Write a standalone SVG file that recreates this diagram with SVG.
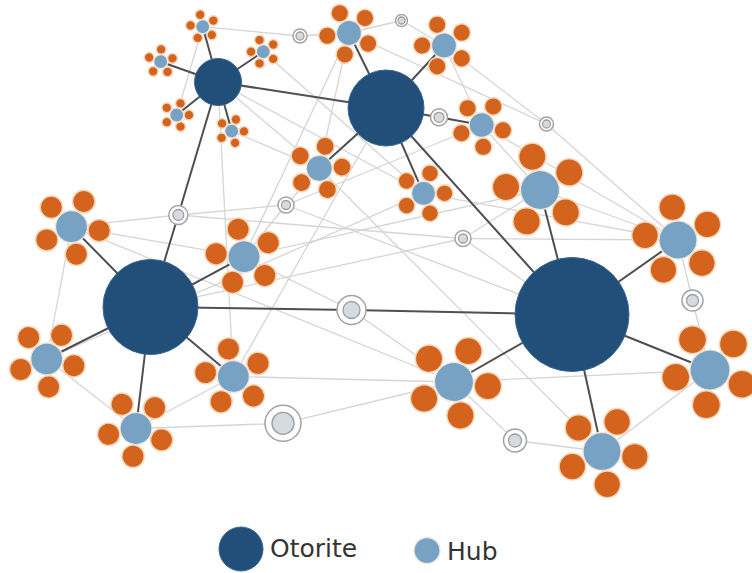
<svg xmlns="http://www.w3.org/2000/svg" xmlns:xlink="http://www.w3.org/1999/xlink" width="752" height="573" viewBox="0 0 752 573">
  <style>
    .bg { fill: #ffffff; }
    .link { stroke: #d5d5d5; stroke-width: 1.3; fill: none; }
    .link-strong { stroke: #4d4f52; stroke-width: 2; fill: none; }
    .otorite { fill: #214f79; stroke: #3a6690; stroke-width: 1; }
    .hub { fill: #78a2c4; stroke: #ece6dc; stroke-width: 1.3; }
    .petal { fill: #d3631d; stroke: #f7d6b8; stroke-width: 1.5; }
    .ring-out { fill: #ffffff; stroke: #a3a3a3; stroke-width: 1.5; }
    .ring-in { fill: #d6dbe1; stroke: #9e9e9e; stroke-width: 1.3; }
    .legend-text { font-family: "DejaVu Sans", Verdana, sans-serif; font-size: 25px; fill: #333333; }
  </style>
  <defs>
    <!-- hub of radius 10 with five petals; scaled and turned per node -->
    <g id="flower">
      <circle class="petal" cx="17.5" cy="0" r="7" vector-effect="non-scaling-stroke"/>
      <circle class="petal" cx="5.408" cy="16.643" r="7" vector-effect="non-scaling-stroke"/>
      <circle class="petal" cx="-14.158" cy="10.286" r="7" vector-effect="non-scaling-stroke"/>
      <circle class="petal" cx="-14.158" cy="-10.286" r="7" vector-effect="non-scaling-stroke"/>
      <circle class="petal" cx="5.408" cy="-16.643" r="7" vector-effect="non-scaling-stroke"/>
      <circle class="hub" cx="0" cy="0" r="10" vector-effect="non-scaling-stroke"/>
    </g>
  </defs>

  <rect class="bg" x="0" y="0" width="752" height="573"/>

  <g id="connectors">
    <!-- light links -->
    <line class="link" x1="202.7" y1="26.7" x2="300" y2="36"/>
    <line class="link" x1="300" y1="36" x2="349" y2="33"/>
    <line class="link" x1="349" y1="33" x2="401.5" y2="20.5"/>
    <line class="link" x1="401.5" y1="20.5" x2="444" y2="45.5"/>
    <line class="link" x1="349" y1="33" x2="546.5" y2="124"/>
    <line class="link" x1="444" y1="45.5" x2="546.5" y2="124"/>
    <line class="link" x1="546.5" y1="124" x2="678" y2="240"/>
    <line class="link" x1="444" y1="45.5" x2="481.7" y2="125"/>
    <line class="link" x1="481.7" y1="125" x2="540" y2="190"/>
    <line class="link" x1="481.7" y1="125" x2="678" y2="240"/>
    <line class="link" x1="202.7" y1="26.7" x2="176.7" y2="115"/>
    <line class="link" x1="218" y1="82" x2="319.3" y2="168.3"/>
    <line class="link" x1="218" y1="82" x2="423.5" y2="193.3"/>
    <line class="link" x1="218" y1="82" x2="233.3" y2="376.5"/>
    <line class="link" x1="263.3" y1="51.7" x2="423.5" y2="193.3"/>
    <line class="link" x1="231.7" y1="131" x2="319.3" y2="168.3"/>
    <line class="link" x1="349" y1="33" x2="319.3" y2="168.3"/>
    <line class="link" x1="349" y1="33" x2="244" y2="256.7"/>
    <line class="link" x1="286" y1="205" x2="319.3" y2="168.3"/>
    <line class="link" x1="286" y1="205" x2="244" y2="256.7"/>
    <line class="link" x1="178.3" y1="215" x2="71.5" y2="226.7"/>
    <line class="link" x1="178.3" y1="215" x2="286" y2="205"/>
    <line class="link" x1="178.3" y1="215" x2="463" y2="238.5"/>
    <line class="link" x1="71.5" y1="226.7" x2="244" y2="256.7"/>
    <line class="link" x1="71.5" y1="226.7" x2="46.7" y2="359"/>
    <line class="link" x1="46.7" y1="359" x2="136" y2="428.5"/>
    <line class="link" x1="46.7" y1="359" x2="423.5" y2="193.3"/>
    <line class="link" x1="136" y1="428.5" x2="233.3" y2="376.5"/>
    <line class="link" x1="136" y1="428.5" x2="283" y2="423.3"/>
    <line class="link" x1="283" y1="423.3" x2="454" y2="382"/>
    <line class="link" x1="233.3" y1="376.5" x2="454" y2="382"/>
    <line class="link" x1="454" y1="382" x2="710" y2="370"/>
    <line class="link" x1="454" y1="382" x2="515" y2="440.5"/>
    <line class="link" x1="515" y1="440.5" x2="602" y2="451.5"/>
    <line class="link" x1="602" y1="451.5" x2="710" y2="370"/>
    <line class="link" x1="678" y1="240" x2="692.5" y2="300.5"/>
    <line class="link" x1="692.5" y1="300.5" x2="710" y2="370"/>
    <line class="link" x1="540" y1="190" x2="678" y2="240"/>
    <line class="link" x1="423.5" y1="193.3" x2="678" y2="240"/>
    <line class="link" x1="244" y1="256.7" x2="540" y2="190"/>
    <line class="link" x1="150.5" y1="307" x2="463" y2="238.5"/>
    <line class="link" x1="463" y1="238.5" x2="540" y2="190"/>
    <line class="link" x1="463" y1="238.5" x2="678" y2="240"/>
    <line class="link" x1="463" y1="238.5" x2="572" y2="314.5"/>
    <line class="link" x1="286" y1="205" x2="481.7" y2="125"/>
    <line class="link" x1="286" y1="205" x2="572" y2="314.5"/>
    <line class="link" x1="351.5" y1="310" x2="244" y2="256.7"/>
    <line class="link" x1="351.5" y1="310" x2="454" y2="382"/>
    <line class="link" x1="319.3" y1="168.3" x2="602" y2="451.5"/>
    <line class="link" x1="71.5" y1="226.7" x2="454" y2="382"/>
    <line class="link" x1="386" y1="108" x2="233.3" y2="376.5"/>

    <!-- strong links from each otorite -->
    <line class="link-strong" x1="218" y1="82" x2="202.7" y2="26.7"/>
    <line class="link-strong" x1="218" y1="82" x2="160.7" y2="61.7"/>
    <line class="link-strong" x1="218" y1="82" x2="263.3" y2="51.7"/>
    <line class="link-strong" x1="218" y1="82" x2="176.7" y2="115"/>
    <line class="link-strong" x1="218" y1="82" x2="231.7" y2="131"/>
    <line class="link-strong" x1="218" y1="82" x2="386" y2="108"/>
    <line class="link-strong" x1="218" y1="82" x2="178.3" y2="215"/>
    <line class="link-strong" x1="178.3" y1="215" x2="150.5" y2="307"/>
    <line class="link-strong" x1="386" y1="108" x2="349" y2="33"/>
    <line class="link-strong" x1="386" y1="108" x2="444" y2="45.5"/>
    <line class="link-strong" x1="386" y1="108" x2="319.3" y2="168.3"/>
    <line class="link-strong" x1="386" y1="108" x2="423.5" y2="193.3"/>
    <line class="link-strong" x1="386" y1="108" x2="439" y2="117.3"/>
    <line class="link-strong" x1="439" y1="117.3" x2="481.7" y2="125"/>
    <line class="link-strong" x1="386" y1="108" x2="572" y2="314.5"/>
    <line class="link-strong" x1="150.5" y1="307" x2="71.5" y2="226.7"/>
    <line class="link-strong" x1="150.5" y1="307" x2="244" y2="256.7"/>
    <line class="link-strong" x1="150.5" y1="307" x2="46.7" y2="359"/>
    <line class="link-strong" x1="150.5" y1="307" x2="233.3" y2="376.5"/>
    <line class="link-strong" x1="150.5" y1="307" x2="136" y2="428.5"/>
    <line class="link-strong" x1="150.5" y1="307" x2="351.5" y2="310"/>
    <line class="link-strong" x1="351.5" y1="310" x2="572" y2="314.5"/>
    <line class="link-strong" x1="572" y1="314.5" x2="540" y2="190"/>
    <line class="link-strong" x1="572" y1="314.5" x2="678" y2="240"/>
    <line class="link-strong" x1="572" y1="314.5" x2="454" y2="382"/>
    <line class="link-strong" x1="572" y1="314.5" x2="710" y2="370"/>
    <line class="link-strong" x1="572" y1="314.5" x2="602" y2="451.5"/>
  </g>

  <!-- relay rings -->
  <g id="ring-1"><circle class="ring-out" cx="300" cy="36" r="7"/><circle class="ring-in" cx="300" cy="36" r="4"/></g>
  <g id="ring-2"><circle class="ring-out" cx="401.5" cy="20.5" r="6"/><circle class="ring-in" cx="401.5" cy="20.5" r="3.5"/></g>
  <g id="ring-3"><circle class="ring-out" cx="439" cy="117.3" r="8.5"/><circle class="ring-in" cx="439" cy="117.3" r="5"/></g>
  <g id="ring-4"><circle class="ring-out" cx="546.5" cy="124" r="7"/><circle class="ring-in" cx="546.5" cy="124" r="4"/></g>
  <g id="ring-5"><circle class="ring-out" cx="178.3" cy="215" r="9.5"/><circle class="ring-in" cx="178.3" cy="215" r="5.5"/></g>
  <g id="ring-6"><circle class="ring-out" cx="286" cy="205" r="8"/><circle class="ring-in" cx="286" cy="205" r="4.5"/></g>
  <g id="ring-7"><circle class="ring-out" cx="463" cy="238.5" r="8"/><circle class="ring-in" cx="463" cy="238.5" r="4.5"/></g>
  <g id="ring-8"><circle class="ring-out" cx="351.5" cy="310" r="14.5"/><circle class="ring-in" cx="351.5" cy="310" r="8.5"/></g>
  <g id="ring-9"><circle class="ring-out" cx="692.5" cy="300.5" r="10.5"/><circle class="ring-in" cx="692.5" cy="300.5" r="6"/></g>
  <g id="ring-10"><circle class="ring-out" cx="283" cy="423.3" r="18"/><circle class="ring-in" cx="283" cy="423.3" r="11"/></g>
  <g id="ring-11"><circle class="ring-out" cx="515" cy="440.5" r="11.5"/><circle class="ring-in" cx="515" cy="440.5" r="6.5"/></g>

  <!-- hubs with their petals -->
  <g id="hub-1" transform="translate(202.7 26.7) rotate(-102) scale(0.7)"><use href="#flower"/></g>
  <g id="hub-2" transform="translate(160.7 61.7) rotate(-88) scale(0.7)"><use href="#flower"/></g>
  <g id="hub-3" transform="translate(263.3 51.7) rotate(-108) scale(0.7)"><use href="#flower"/></g>
  <g id="hub-4" transform="translate(176.7 115) rotate(-72) scale(0.7)"><use href="#flower"/></g>
  <g id="hub-5" transform="translate(231.7 131) rotate(-70) scale(0.7)"><use href="#flower"/></g>
  <g id="hub-6" transform="translate(349 33) rotate(-115) scale(1.25)"><use href="#flower"/></g>
  <g id="hub-7" transform="translate(444 45.5) rotate(-108) scale(1.25)"><use href="#flower"/></g>
  <g id="hub-8" transform="translate(481.7 125) rotate(-130) scale(1.25)"><use href="#flower"/></g>
  <g id="hub-9" transform="translate(319.3 168.3) rotate(-75) scale(1.3)"><use href="#flower"/></g>
  <g id="hub-10" transform="translate(423.5 193.3) rotate(-72) scale(1.2)"><use href="#flower"/></g>
  <g id="hub-11" transform="translate(540 190) rotate(-103) scale(1.95)"><use href="#flower"/></g>
  <g id="hub-12" transform="translate(678 240) rotate(-100) scale(1.9)"><use href="#flower"/></g>
  <g id="hub-13" transform="translate(71.5 226.7) rotate(-136) scale(1.6)"><use href="#flower"/></g>
  <g id="hub-14" transform="translate(244 256.7) rotate(-102) scale(1.6)"><use href="#flower"/></g>
  <g id="hub-15" transform="translate(46.7 359) rotate(-130) scale(1.6)"><use href="#flower"/></g>
  <g id="hub-16" transform="translate(233.3 376.5) rotate(-100) scale(1.6)"><use href="#flower"/></g>
  <g id="hub-17" transform="translate(136 428.5) rotate(-120) scale(1.6)"><use href="#flower"/></g>
  <g id="hub-18" transform="translate(454 382) rotate(-65) scale(1.95)"><use href="#flower"/></g>
  <g id="hub-19" transform="translate(710 370) rotate(-120) scale(2)"><use href="#flower"/></g>
  <g id="hub-20" transform="translate(602 451.5) rotate(-135) scale(1.9)"><use href="#flower"/></g>

  <!-- otorite nodes -->
  <g id="otorite-1"><circle class="otorite" cx="218" cy="82" r="23.5"/></g>
  <g id="otorite-2"><circle class="otorite" cx="386" cy="108" r="38"/></g>
  <g id="otorite-3"><circle class="otorite" cx="150.5" cy="307" r="47.5"/></g>
  <g id="otorite-4"><circle class="otorite" cx="572" cy="314.5" r="57"/></g>

  <!-- legend -->
  <g id="legend">
    <circle class="otorite" cx="241" cy="549" r="22"/>
    <text class="legend-text" x="270" y="557">Otorite</text>
    <circle class="hub" cx="427" cy="550.5" r="13" stroke="none"/>
    <text class="legend-text" x="447" y="560">Hub</text>
  </g>
</svg>
